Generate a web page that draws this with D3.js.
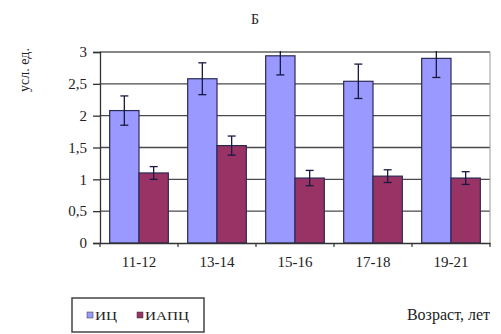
<!DOCTYPE html>
<html>
<head>
<meta charset="utf-8">
<script src="https://cdn.jsdelivr.net/npm/d3@7"></script>
<style>
  body { margin: 0; background: #fff; }
  svg text { font-family: "Liberation Serif", "Times New Roman", serif !important; fill: #222; }
</style>
</head>
<body>
<div id="chart" style="width:501px;height:334px"></div>
<script>
// данные
const categories = ["11-12", "13-14", "15-16", "17-18", "19-21"]
const seriesNames = ["ИЦ", "ИАПЦ"]
const icValues = [2.08, 2.58, 2.94, 2.54, 2.9]
const icErrors = [0.23, 0.25, 0.3, 0.27, 0.3]
const iapcValues = [1.1, 1.53, 1.02, 1.05, 1.02]
const iapcErrors = [0.1, 0.15, 0.12, 0.1, 0.1]
const yTicks = [0, 0.5, 1, 1.5, 2, 2.5, 3]
const colors = ["#9999ff", "#993366"]

const W = 501, H = 334
const plot = {left: 100, right: 490, top: 52, bottom: 243}

const svg = d3.select("#chart").append("svg").attr("width", W).attr("height", H)

const x = d3.scaleBand().domain(categories).range([plot.left, plot.right])
const xInner = d3.scaleBand().domain(seriesNames).range([0, x.bandwidth()]).paddingInner(0).paddingOuter(0.33)
const y = d3.scaleLinear().domain([0, 3]).range([plot.bottom, plot.top])

// сетка
svg.append("g")
  .selectAll("line")
  .data(yTicks.slice(1))
  .enter()
  .append("line")
  .attr("x1", plot.left).attr("x2", plot.right)
  .attr("y1", d => y(d)).attr("y2", d => y(d))
  .attr("stroke", "#4a4a4a").attr("stroke-width", 1.4)

// рамка сверху и справа
svg.append("path")
  .attr("d", `M${plot.left},${plot.top}H${plot.right}V${plot.bottom}`)
  .attr("fill", "none").attr("stroke", "#999").attr("stroke-width", 1)

svg.append("clipPath").attr("id", "clip")
  .append("rect")
  .attr("x", plot.left).attr("y", plot.top - 1)
  .attr("width", plot.right - plot.left).attr("height", plot.bottom - plot.top + 1)

const series = [
  {name: seriesNames[0], values: icValues, errors: icErrors, color: colors[0]},
  {name: seriesNames[1], values: iapcValues, errors: iapcErrors, color: colors[1]}
]

const bars = svg.append("g").attr("clip-path", "url(#clip)")
series.forEach(s => {
  const rows = categories.map((c, i) => ({c, v: s.values[i], e: s.errors[i]}))
  const g = bars.append("g")
  g.selectAll("rect")
    .data(rows)
    .enter()
    .append("rect")
    .attr("x", d => x(d.c) + xInner(s.name))
    .attr("y", d => y(d.v))
    .attr("width", xInner.bandwidth())
    .attr("height", d => y(0) - y(d.v))
    .attr("fill", s.color)
    .attr("stroke", "#2a2a55").attr("stroke-width", 1.2)

  // планки погрешностей
  const cx = d => x(d.c) + xInner(s.name) + xInner.bandwidth() / 2
  const eb = g.selectAll("g.err").data(rows).enter().append("g").attr("class", "err")
    .attr("stroke", "#1a1a40").attr("stroke-width", 1.3)
  eb.append("line")
    .attr("x1", cx).attr("x2", cx)
    .attr("y1", d => y(d.v + d.e)).attr("y2", d => y(d.v - d.e))
  eb.append("line")
    .attr("x1", d => cx(d) - 4).attr("x2", d => cx(d) + 4)
    .attr("y1", d => y(d.v + d.e)).attr("y2", d => y(d.v + d.e))
  eb.append("line")
    .attr("x1", d => cx(d) - 4).attr("x2", d => cx(d) + 4)
    .attr("y1", d => y(d.v - d.e)).attr("y2", d => y(d.v - d.e))
})

// оси
const fmt = d => String(d).replace(".", ",")
const yAxis = svg.append("g")
  .attr("transform", `translate(${plot.left},0)`)
  .call(d3.axisLeft(y).tickValues(yTicks).tickFormat(fmt).tickSize(7).tickPadding(6))
yAxis.select(".domain").attr("stroke", "#333").attr("stroke-width", 1.3)
yAxis.selectAll(".tick line").attr("stroke", "#333").attr("stroke-width", 1.3)
yAxis.selectAll("text").attr("font-size", 15).attr("fill", "#222")

const xAxis = svg.append("g")
  .attr("transform", `translate(0,${plot.bottom})`)
  .call(d3.axisBottom(x).tickSize(0).tickPadding(13))
xAxis.select(".domain").attr("stroke", "#333").attr("stroke-width", 1.3)
xAxis.selectAll("text").attr("font-size", 15).attr("fill", "#222")
svg.append("g")
  .selectAll("line")
  .data(d3.range(categories.length + 1))
  .enter()
  .append("line")
  .attr("x1", i => plot.left + i * x.step()).attr("x2", i => plot.left + i * x.step())
  .attr("y1", plot.bottom).attr("y2", plot.bottom + 4)
  .attr("stroke", "#333").attr("stroke-width", 1.2)

// подписи
svg.append("text")
  .attr("x", 255).attr("y", 24)
  .attr("text-anchor", "middle").attr("font-size", 14)
  .text("Б")

svg.append("text")
  .attr("transform", "translate(29,70) rotate(-90)")
  .attr("text-anchor", "middle").attr("font-size", 14)
  .text("усл. ед.")

svg.append("text")
  .attr("x", 490).attr("y", 320)
  .attr("text-anchor", "end").attr("font-size", 16)
  .text("Возраст, лет")

// легенда
const legend = svg.append("g").attr("transform", "translate(72,298)")
legend.append("rect")
  .attr("width", 132).attr("height", 34)
  .attr("fill", "#fff").attr("stroke", "#444").attr("stroke-width", 1.5)
const lx = [15, 65]
series.forEach((s, i) => {
  legend.append("rect")
    .attr("x", lx[i]).attr("y", 14).attr("width", 6).attr("height", 6)
    .attr("fill", s.color).attr("stroke", "#333").attr("stroke-width", 0.5)
  legend.append("text")
    .attr("x", lx[i] + 8).attr("y", 22)
    .attr("font-size", 13)
    .attr("textLength", i === 0 ? 22 : 44)
    .attr("lengthAdjust", "spacingAndGlyphs")
    .text(s.name)
})
</script>
</body>
</html>
